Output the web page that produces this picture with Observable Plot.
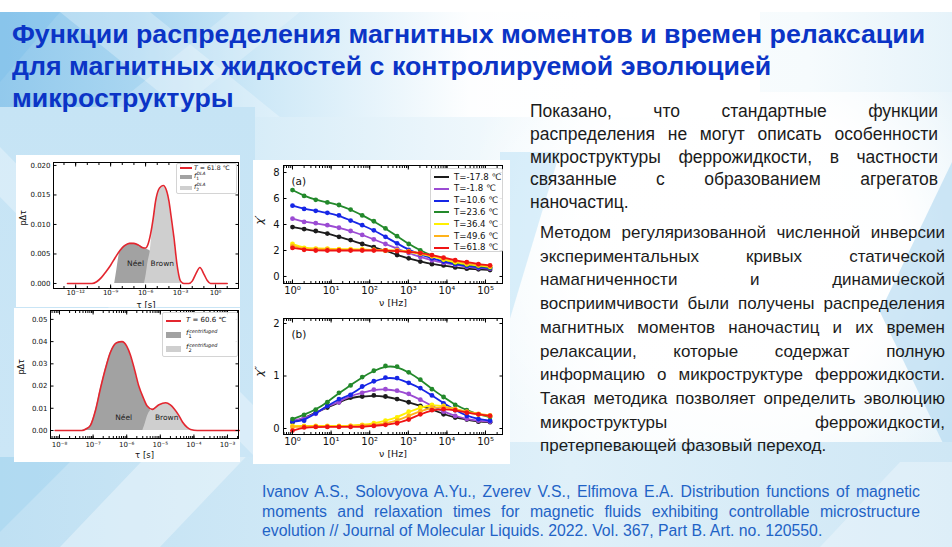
<!DOCTYPE html>
<html lang="ru">
<head>
<meta charset="utf-8">
<script src="https://cdn.jsdelivr.net/npm/d3@7"></script>
<script src="https://cdn.jsdelivr.net/npm/@observablehq/plot@0.6"></script>
<style>
  html, body { margin: 0; padding: 0; }
  body { width: 952px; height: 547px; position: relative; overflow: hidden; background: #fff;
         font-family: "Liberation Sans", Arial, sans-serif; }
  .bg { position: absolute; left: 0; top: 12px; width: 952px; height: 535px; overflow: hidden;
        background: linear-gradient(90deg, #c3e2f4 0%, #d2eaf7 22%, #eaf5fb 45%, #fafdfe 62%, #f6fbfd 85%, #e6f3fa 100%); }
  .shape { position: absolute; }
  .title { position: absolute; left: 12px; font-weight: bold; font-size: 25px; line-height: 25px;
           color: #0b34c6; white-space: nowrap; transform: scaleX(1.07); transform-origin: 0 0; }
  .line { position: absolute; white-space: nowrap; text-align: justify; text-align-last: justify; line-height: 1; }
  .p1 { left: 530px; width: 408px; font-size: 17.5px; color: #1b1b1b; }
  .p2 { left: 540px; width: 405px; font-size: 17px; color: #1b1b1b; }
  .cite { left: 262px; width: 658px; font-size: 15.8px; color: #1f63c6; }
  .last { text-align: left; text-align-last: left; }
  .panel { position: absolute; background: #fff; }
  .chart { position: absolute; }
  .legend { position: absolute; background: rgba(255,255,255,0.9); border: 1px solid #d4d4d4; border-radius: 2px;
            font-family: "DejaVu Sans", sans-serif; color: #111; box-sizing: border-box; }
  .swl { position: absolute; height: 2px; }
  .sws { position: absolute; }
  .lab { position: absolute; }
  .fsym { font-style: italic; position: relative; }
  .fsub { position: absolute; font-style: normal; }
  .fsup { position: absolute; font-style: italic; }
</style>
</head>
<body>
<div class="bg" id="bg"></div>
<div id="page"></div>
<script>
// ---------- relaxation-time distributions (left column) ----------
// T = 61.8 °C: total distribution and its Néel / Brown parts (log10 τ, pΔτ)
const topTauExp   = [-12.7,-11,-10.6,-10.2,-9.8,-9.4,-9,-8.6,-8.2,-7.8,-7.4,-7.0,-6.6,-6.3,-6.0,-5.8,-5.57,-5.35,-5.14,-4.8,-4.49,-4.2,-4.0,-3.8,-3.57,-3.29,-3.0,-2.71,-2.3,-2.0,-1.7,-1.34,-1.0,-0.71,-0.43,0,1.0];
const topTotal    = [0,0,0,0.0003,0.0010,0.0020,0.0031,0.0044,0.0056,0.0064,0.0068,0.0068,0.0065,0.0061,0.0060,0.0066,0.0084,0.0110,0.0140,0.0162,0.0166,0.0157,0.0140,0.0112,0.0078,0.0030,0.0004,0,0,0.0004,0.0016,0.0027,0.0016,0.0005,0,0,0];
const topNeelExp  = [-8.65,-8.45,-8.25,-8.0,-7.6,-7.2,-6.8,-6.4,-6.0,-5.6,-5.3,-5.0];
const topNeel     = [0,0.0025,0.0050,0.0060,0.0066,0.0068,0.0067,0.0063,0.0059,0.0055,0.0035,0];
const topBrownExp = [-6.1,-5.95,-5.8,-5.6,-5.35,-5.14,-4.8,-4.49,-4.2,-4.0,-3.8,-3.57,-3.29,-3.0,-2.8];
const topBrown    = [0,0.0015,0.0035,0.0055,0.0105,0.0138,0.0160,0.0164,0.0155,0.0138,0.0110,0.0076,0.0028,0.0003,0];

// T = 60.6 °C, centrifuged sample
const botTauExp   = [-8.13,-7.6,-7.33,-7.2,-7.08,-6.93,-6.78,-6.63,-6.49,-6.3,-6.14,-6.0,-5.89,-5.76,-5.64,-5.5,-5.39,-5.24,-5.04,-4.84,-4.7,-4.59,-4.45,-4.34,-4.2,-4.1,-3.9,-2.65];
const botTotal    = [0,0,0,0.0008,0.0023,0.009,0.019,0.028,0.035,0.0395,0.040,0.038,0.034,0.027,0.020,0.0145,0.011,0.0095,0.0116,0.0125,0.0115,0.0098,0.0068,0.0038,0.0014,0.0005,0,0];
const botNeelExp  = [-7.33,-7.2,-7.08,-6.93,-6.78,-6.63,-6.49,-6.3,-6.14,-6.0,-5.89,-5.76,-5.64,-5.5,-5.39,-5.24,-5.1,-4.95];
const botNeel     = [0,0.0008,0.0023,0.009,0.019,0.028,0.035,0.0395,0.040,0.038,0.034,0.027,0.020,0.0145,0.011,0.008,0.003,0];
const botBrownExp = [-5.52,-5.45,-5.38,-5.3,-5.24,-5.04,-4.84,-4.7,-4.59,-4.45,-4.34,-4.2,-4.1,-3.95];
const botBrown    = [0,0.003,0.0065,0.0088,0.0093,0.0114,0.0123,0.0113,0.0096,0.0066,0.0036,0.0013,0.0004,0];

const topYTicks = [0, 0.005, 0.010, 0.015, 0.020];
const topXTicks = [1e-12, 1e-9, 1e-6, 1e-3, 1];
const botYTicks = [0, 0.01, 0.02, 0.03, 0.04, 0.05];
const botXTicks = [1e-8, 1e-7, 1e-6, 1e-5, 1e-4, 1e-3];

// ---------- AC susceptibility spectra (right column) ----------
const freqHz = [1,2,4,8,16,32,64,128,256,512,1024,2048,4096,8192,16384,32768,65536,131072];
const tempLabels = ["T=-17.8 ℃","T=-1.8 ℃","T=10.6 ℃","T=23.6 ℃","T=36.4 ℃","T=49.6 ℃","T=61.8 ℃"];
const tempColors = ["#1c1c1c","#9b4bd3","#1626e6","#23892b","#fff000","#ffb31a","#f01414"];
const chiRe = [
  [3.8,3.65,3.5,3.3,3.05,2.8,2.5,2.25,2.0,1.65,1.4,1.15,0.95,0.85,0.7,0.6,0.55,0.5],
  [4.45,4.2,4.1,3.95,3.75,3.5,3.2,2.85,2.5,2.15,1.8,1.5,1.25,1.05,0.9,0.75,0.65,0.6],
  [5.45,5.2,5.05,4.9,4.7,4.3,3.95,3.55,3.05,2.55,2.05,1.7,1.4,1.15,0.95,0.8,0.7,0.65],
  [6.65,6.2,5.9,5.7,5.5,5.15,4.7,4.25,3.7,3.1,2.5,2.0,1.6,1.3,1.05,0.9,0.8,0.7],
  [2.5,2.2,2.15,2.15,2.1,2.1,2.1,2.05,2.0,2.0,1.9,1.75,1.55,1.3,1.1,0.95,0.85,0.75],
  [2.35,2.1,2.1,2.1,2.05,2.05,2.05,2.05,2.0,2.0,1.95,1.8,1.6,1.4,1.2,1.0,0.9,0.8],
  [2.2,2.05,2.0,2.0,2.0,2.0,2.0,2.0,2.0,1.95,1.9,1.8,1.65,1.45,1.25,1.1,0.95,0.85]
];
const chiIm = [
  [0.12,0.2,0.3,0.4,0.5,0.59,0.61,0.63,0.61,0.56,0.5,0.43,0.37,0.27,0.21,0.17,0.13,0.12],
  [0.15,0.2,0.28,0.43,0.5,0.63,0.68,0.74,0.75,0.72,0.66,0.55,0.43,0.32,0.24,0.18,0.15,0.13],
  [0.13,0.15,0.29,0.43,0.56,0.64,0.8,0.9,0.97,0.96,0.87,0.77,0.63,0.48,0.35,0.24,0.18,0.15],
  [0.18,0.26,0.36,0.5,0.68,0.82,0.98,1.1,1.19,1.18,1.07,0.93,0.75,0.6,0.45,0.35,0.27,0.22],
  [0.05,0.05,0.05,0.05,0.05,0.05,0.07,0.1,0.15,0.21,0.32,0.4,0.45,0.43,0.37,0.31,0.27,0.24],
  [0.03,0.04,0.04,0.04,0.04,0.05,0.06,0.07,0.1,0.15,0.24,0.33,0.4,0.41,0.37,0.32,0.28,0.25],
  [-0.04,0.02,0.03,0.03,0.03,0.03,0.03,0.05,0.07,0.1,0.17,0.27,0.35,0.37,0.35,0.3,0.27,0.24]
];
const nuTicks = [1, 10, 100, 1e3, 1e4, 1e5];
const reTicks = [0, 2, 4, 6, 8];
const imTicks = [0, 1, 2];

// ---------- slide text ----------
const titleLines = [
  "Функции распределения магнитных моментов и времен релаксации",
  "для магнитных жидкостей с контролируемой эволюцией",
  "микроструктуры"
];
const para1 = [
  "Показано, что стандартные функции",
  "распределения не могут описать особенности",
  "микроструктуры феррожидкости, в частности",
  "связанные с образованием агрегатов",
  "наночастиц."
];
const para2 = [
  "Методом регуляризованной численной инверсии",
  "экспериментальных кривых статической",
  "намагниченности и динамической",
  "восприимчивости были получены распределения",
  "магнитных моментов наночастиц  и их времен",
  "релаксации, которые содержат полную",
  "информацию о микроструктуре феррожидкости.",
  "Такая методика позволяет определить эволюцию",
  "микроструктуры феррожидкости,",
  "претерпевающей фазовый переход."
];
const citation = [
  "Ivanov A.S., Solovyova A.Yu., Zverev V.S., Elfimova E.A. Distribution functions of magnetic",
  "moments and relaxation times for magnetic fluids exhibiting controllable microstructure",
  "evolution // Journal of Molecular Liquids. 2022. Vol. 367, Part B. Art. no. 120550."
];

// ---------- helpers ----------
const page = document.getElementById("page");
function el(tag, cls, css, html) {
  const e = document.createElement(tag);
  if (cls) e.className = cls;
  if (css) Object.assign(e.style, css);
  if (html !== undefined) e.innerHTML = html;
  return e;
}
const SUP = {"-":"⁻","0":"⁰","1":"¹","2":"²","3":"³","4":"⁴","5":"⁵","6":"⁶","7":"⁷","8":"⁸","9":"⁹"};
const pow10 = d => "10" + String(Math.round(Math.log10(d))).replace(/[-0-9]/g, c => SUP[c]);
const rows = (exps, vals) => exps.map((e, i) => ({tau: 10 ** e, p: vals[i]}));
function logMinor(dom) {
  const t = [];
  for (let e = Math.floor(Math.log10(dom[0])); e <= Math.ceil(Math.log10(dom[1])); e++)
    for (let m = 1; m < 10; m++) { const v = m * 10 ** e; if (v >= dom[0] && v <= dom[1]) t.push(v); }
  return t;
}
function decades(dom) {
  const t = [];
  for (let e = Math.ceil(Math.log10(dom[0])); 10 ** e <= dom[1]; e++) t.push(10 ** e);
  return t;
}
const blank = () => "";
// inward matplotlib-style ticks on all four sides
function frameTicks(xMajor, xMinor, yMajor, major, minor) {
  const m = [];
  for (const a of ["bottom", "top"]) {
    m.push(Plot.axisX(xMajor, {anchor: a, tickSize: -major, tickFormat: blank, label: null, stroke: "#000"}));
    if (xMinor) m.push(Plot.axisX(xMinor, {anchor: a, tickSize: -minor, tickFormat: blank, label: null, stroke: "#000"}));
  }
  for (const a of ["left", "right"])
    m.push(Plot.axisY(yMajor, {anchor: a, tickSize: -major, tickFormat: blank, label: null, stroke: "#000"}));
  return m;
}

// ---------- background ----------
const bg = document.getElementById("bg");
const shapes = [
  // title band, strong blue on the left fading out
  {left:0, top:0, width:760, height:105, background:"linear-gradient(90deg, #92c9ec 0%, #a9d6f1 18%, #cde8f7 34%, rgba(255,255,255,0.9) 62%, #ffffff 80%)"},
  {left:0, top:0, width:300, height:105, background:"rgba(255,255,255,0.28)", clipPath:"polygon(60px 0, 150px 0, 280px 105px, 190px 105px)"},
  {left:0, top:0, width:300, height:105, background:"rgba(255,255,255,0.22)", clipPath:"polygon(230px 0, 300px 0, 170px 105px, 100px 105px)"},
  {left:0, top:0, width:120, height:105, background:"rgba(120,190,235,0.35)", clipPath:"polygon(0 0, 60px 0, 0 70px)"},
  // right side whitening behind the text
  {left:480, top:80, width:472, height:390, background:"radial-gradient(ellipse at 55% 40%, rgba(255,255,255,1) 0%, rgba(255,255,255,0.95) 45%, rgba(255,255,255,0) 80%)"},
  {left:500, top:140, width:120, height:200, background:"rgba(190,225,245,0.55)", clipPath:"polygon(0 0, 60px 0, 0 200px)"},
  {left:880, top:150, width:72, height:300, background:"rgba(175,215,240,0.6)", clipPath:"polygon(72px 0, 72px 300px, 0 150px)"},
  // lower band
  {left:0, top:430, width:952, height:105, background:"linear-gradient(90deg, #bfe0f3 0%, #cfe8f6 30%, #dff0f9 60%, #cfe7f5 100%)"},
  {left:0, top:430, width:952, height:105, background:"rgba(255,255,255,0.35)", clipPath:"polygon(60px 105px, 160px 0, 260px 0, 160px 105px)"},
  {left:0, top:430, width:952, height:105, background:"rgba(255,255,255,0.3)", clipPath:"polygon(820px 105px, 900px 20px, 952px 20px, 952px 105px)"},
  {left:0, top:430, width:952, height:105, background:"rgba(150,205,238,0.35)", clipPath:"polygon(0 0, 90px 0, 0 90px)"},
  // left column behind the charts
  {left:0, top:95, width:255, height:350, background:"linear-gradient(180deg, #c6e4f5 0%, #cbe6f6 100%)"},
  {left:0, top:95, width:255, height:350, background:"rgba(255,255,255,0.3)", clipPath:"polygon(0 40px, 255px 300px, 255px 350px, 0 90px)"}
];
for (const s of shapes) {
  const {left, top, width, height, ...rest} = s;
  bg.appendChild(el("div", "shape", {left: left + "px", top: top + "px", width: width + "px", height: height + "px", ...rest}));
}

// ---------- text ----------
const titleBase = [43, 75, 107];
titleLines.forEach((t, i) => page.appendChild(el("div", "title", {top: (titleBase[i] - 21) + "px"}, t)));
para1.forEach((t, i) => page.appendChild(el("div", "line p1" + (i === para1.length - 1 ? " last" : ""),
  {top: (117 - 14 + i * 22.75) + "px"}, t)));
para2.forEach((t, i) => page.appendChild(el("div", "line p2" + (i === para2.length - 1 ? " last" : ""),
  {top: (238 - 14 + i * 23.7) + "px"}, t)));
citation.forEach((t, i) => page.appendChild(el("div", "line cite" + (i === citation.length - 1 ? " last" : ""),
  {top: (497 - 13 + i * 19.5) + "px"}, t)));

// ---------- distribution charts ----------
function distChart(cfg) {
  const wrap = el("div", "chart", {left: cfg.left + "px", top: cfg.top + "px", width: cfg.width + "px", height: cfg.height + "px", background: "#fff"});
  const xMinor = cfg.minorAll ? logMinor(cfg.xdom) : decades(cfg.xdom);
  const svg = Plot.plot({
    width: cfg.width, height: cfg.height,
    marginLeft: cfg.ml, marginRight: cfg.mr, marginTop: cfg.mt, marginBottom: cfg.mb,
    style: {background: "#fff", fontFamily: "DejaVu Sans, sans-serif", fontSize: cfg.fs + "px", color: "#111", overflow: "visible"},
    x: {type: "log", domain: cfg.xdom},
    y: {domain: cfg.ydom},
    marks: [
      Plot.areaY(cfg.neel, {x: "tau", y: "p", fill: "#a2a2a2", curve: "monotone-x"}),
      Plot.areaY(cfg.brown, {x: "tau", y: "p", fill: "#cfcfcf", curve: "monotone-x"}),
      Plot.lineY(cfg.total, {x: "tau", y: "p", stroke: "#e3262f", strokeWidth: 1.6, curve: "monotone-x"}),
      Plot.text(cfg.labels, {x: "tau", y: "p", text: "t", fontSize: cfg.fs + 0.5, fill: "#222"}),
      Plot.axisX(cfg.xticks, {anchor: "bottom", tickSize: 0, tickPadding: cfg.xpad, tickFormat: pow10, label: null}),
      Plot.axisY(cfg.yticks, {anchor: "left", tickSize: 0, tickPadding: 3, tickFormat: cfg.yfmt, label: null}),
      ...frameTicks(cfg.xticks, xMinor, cfg.yticks, 3.5, 2),
      Plot.text([0], {frameAnchor: "left", text: () => "pΔτ", rotate: -90, dx: -cfg.ylabDx, fontSize: cfg.fs + 1}),
      Plot.text([0], {frameAnchor: "bottom", text: () => "τ [s]", dy: cfg.xlabDy, fontSize: cfg.fs + 1.5}),
      Plot.frame({stroke: "#000", strokeWidth: 1})
    ]
  });
  wrap.appendChild(svg);
  // legend
  const L = cfg.legend;
  const box = el("div", "legend", {left: L.x + "px", top: L.y + "px", width: L.w + "px", height: L.h + "px", fontSize: L.fs + "px"});
  box.appendChild(el("div", "swl", {left: L.sx + "px", width: L.sw + "px", top: (L.rows[0] - 1) + "px", background: "#e3262f"}));
  box.appendChild(el("div", "lab", {left: L.tx + "px", top: (L.rows[0] - L.fs * 0.6) + "px", whiteSpace: "nowrap"}, L.title));
  [["#a2a2a2", "1"], ["#cfcfcf", "2"]].forEach(([c, k], i) => {
    const y = L.rows[i + 1];
    box.appendChild(el("div", "sws", {left: L.sx + "px", width: L.sw + "px", top: (y - L.swh / 2) + "px", height: L.swh + "px", background: c}));
    const f = el("div", "lab", {left: L.tx + "px", top: (y - L.fs * 0.75) + "px", whiteSpace: "nowrap"});
    f.innerHTML = `<span class="fsym">f<span class="fsub" style="font-size:${L.fs * 0.7}px;left:${L.fs * 0.35}px;top:${L.fs * 0.55}px">${k}</span>` +
      `<span class="fsup" style="font-size:${L.fs * 0.7}px;left:${L.fs * 0.45}px;top:${-L.fs * 0.25}px">${L.sup}</span></span>`;
    box.appendChild(f);
  });
  wrap.appendChild(box);
  page.appendChild(wrap);
}

distChart({
  left: 16, top: 155, width: 224, height: 152, ml: 37, mr: 2, mt: 7, mb: 19, fs: 7, xpad: 2,
  xdom: [10 ** -13.9, 10 ** 1.97], ydom: [-0.00085, 0.0205],
  xticks: topXTicks, yticks: topYTicks, yfmt: d3.format(".3f"), minorAll: false,
  total: rows(topTauExp, topTotal), neel: rows(topNeelExp, topNeel), brown: rows(topBrownExp, topBrown),
  labels: [{tau: 10 ** -6.86, p: 0.0034, t: "Néel"}, {tau: 10 ** -4.57, p: 0.0034, t: "Brown"}],
  ylabDx: 30, xlabDy: 19,
  legend: {x: 160, y: 8, w: 61, h: 31, fs: 6.2, sx: 3, sw: 12, tx: 17, swh: 4.5, rows: [3.5, 13, 24],
           title: "<i>T</i> = 61.8 ℃", sup: "DLA"}
});
distChart({
  left: 14, top: 308, width: 226, height: 154, ml: 36, mr: 2, mt: 2, mb: 24, fs: 7, xpad: 4,
  xdom: [10 ** -8.268, 10 ** -2.673], ydom: [-0.0036, 0.054],
  xticks: botXTicks, yticks: botYTicks, yfmt: d3.format(".2f"), minorAll: true,
  total: rows(botTauExp, botTotal), neel: rows(botNeelExp, botNeel), brown: rows(botBrownExp, botBrown),
  labels: [{tau: 10 ** -6.09, p: 0.0056, t: "Néel"}, {tau: 10 ** -4.81, p: 0.0056, t: "Brown"}],
  ylabDx: 29, xlabDy: 19,
  legend: {x: 148, y: 4, w: 76, h: 45, fs: 7, sx: 3, sw: 15, tx: 23, swh: 6, rows: [7.5, 21.5, 35.5],
           title: "<i>T</i> = 60.6 ℃", sup: "centrifuged"}
});

// ---------- susceptibility charts ----------
page.appendChild(el("div", "panel", {left: "253px", top: "160px", width: "257px", height: "304px"}));
function chiChart(cfg) {
  const wrap = el("div", "chart", {left: cfg.left + "px", top: cfg.top + "px", width: cfg.width + "px", height: cfg.height + "px"});
  const xdom = cfg.xdom;
  const marks = [];
  cfg.series.forEach((vals, s) => {
    const data = freqHz.map((nu, i) => ({nu, chi: vals[i]}));
    marks.push(Plot.line(data, {x: "nu", y: "chi", stroke: tempColors[s], strokeWidth: 1.8, curve: "basis"}));
    marks.push(Plot.dot(data, {x: "nu", y: "chi", fill: tempColors[s], r: 2.4}));
  });
  const svg = Plot.plot({
    width: cfg.width, height: cfg.height,
    marginLeft: cfg.ml, marginRight: cfg.mr, marginTop: cfg.mt, marginBottom: cfg.mb,
    style: {background: "transparent", fontFamily: "DejaVu Sans, sans-serif", fontSize: "9.5px", color: "#111", overflow: "visible"},
    x: {type: "log", domain: xdom},
    y: {domain: cfg.ydom},
    marks: [
      ...marks,
      Plot.axisX(nuTicks, {anchor: "bottom", tickSize: 0, tickPadding: 3, tickFormat: pow10, fontSize: 10, label: null}),
      Plot.axisY(cfg.yticks, {anchor: "left", tickSize: 0, tickPadding: 4, tickFormat: d => String(d), fontSize: 10, label: null}),
      ...frameTicks(nuTicks, logMinor(xdom), cfg.yticks, 3.5, 2),
      Plot.text([0], {frameAnchor: "top-left", text: () => cfg.tag, dx: 8, dy: 12, textAnchor: "start", fontSize: 10.5}),
      Plot.text([0], {frameAnchor: "left", text: () => cfg.ylab, rotate: -90, dx: -24, fontSize: 11, fontStyle: "italic"}),
      Plot.text([0], {frameAnchor: "bottom", text: () => "ν [Hz]", dy: cfg.xlabDy, fontSize: 9.5}),
      Plot.frame({stroke: "#000", strokeWidth: 1})
    ]
  });
  wrap.appendChild(svg);
  if (cfg.legend) {
    const box = el("div", "legend", {left: "177px", top: "8px", width: "73px", height: "84px", fontSize: "8.6px"});
    tempLabels.forEach((t, i) => {
      const y = 8 + i * 11.8;
      box.appendChild(el("div", "swl", {left: "3px", width: "15px", top: (y - 1) + "px", background: tempColors[i]}));
      box.appendChild(el("div", "lab", {left: "23px", top: (y - 5.5) + "px", whiteSpace: "nowrap"}, t));
    });
    wrap.appendChild(box);
  }
  page.appendChild(wrap);
}
chiChart({left: 253, top: 160, width: 257, height: 150, ml: 30, mr: 8, mt: 5, mb: 27,
          xdom: [10 ** -0.233, 10 ** 5.44], ydom: [-0.54, 8.54], yticks: reTicks,
          series: chiRe, tag: "(a)", ylab: "χ′", xlabDy: 22, legend: true});
chiChart({left: 253, top: 310, width: 257, height: 154, ml: 30, mr: 8, mt: 8, mb: 30,
          xdom: [10 ** -0.233, 10 ** 5.44], ydom: [-0.114, 2.095], yticks: imTicks,
          series: chiIm, tag: "(b)", ylab: "χ″", xlabDy: 22, legend: false});
</script>
</body>
</html>
